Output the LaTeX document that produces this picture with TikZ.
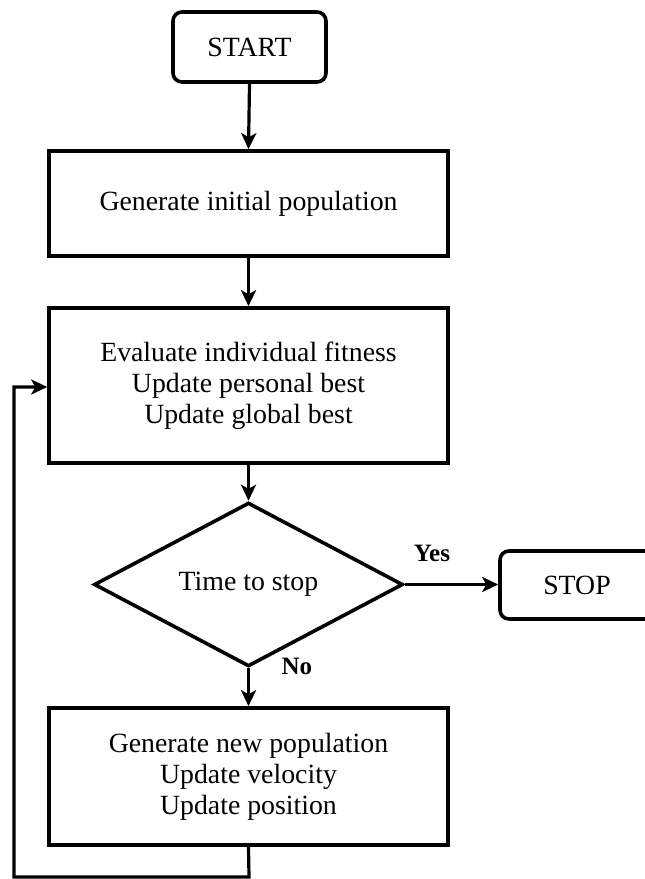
\documentclass[tikz,border=0pt]{standalone}
\usepackage{fontspec}
\setmainfont{Liberation Serif}
\usetikzlibrary{shapes.geometric,arrows.meta}

\begin{document}
\begin{tikzpicture}[x=1pt,y=-1pt,
  base/.style={draw=black, line width=3.6pt, fill=white, inner sep=0pt,
    align=center, font=\fontsize{27.8}{31}\selectfont},
  terminal/.style={base, rounded corners=9pt},
  process/.style={base, minimum width=399pt},
  decision/.style={base, diamond, minimum width=309pt, minimum height=139pt},
  flow/.style={line width=3.2pt, -{Stealth[length=16pt,width=15pt,inset=4pt]}},
  answer/.style={font=\fontsize{25}{28}\selectfont\bfseries}]

  \useasboundingbox (0,0) rectangle (645,879);
  \clip (0,0) rectangle (645,879);
  \fill[white] (0,0) rectangle (645,879);

  % Nodes of the flowchart
  \node[terminal, minimum width=153pt, minimum height=70pt] (start) at (249.5,47) {START};
  \node[process, minimum height=105pt] (init) at (248.5,203.5) {Generate initial population};
  \node[process, minimum height=155pt] (eval) at (248.5,385.5)
    {Evaluate individual fitness\\Update personal best\\Update global best};
  \node[decision] (check) at (248.5,584.5) {Time to stop};
  \node[terminal, minimum width=154pt, minimum height=68pt] (stop) at (577,585) {STOP};
  \node[process, minimum height=137pt] (update) at (248.5,776.5)
    {Generate new population\\Update velocity\\Update position};

  % Main flow
  \draw[flow] (start.south) -- (init.north);
  \draw[flow] (init.south) -- (eval.north);
  \draw[flow] (eval.south) -- (check.north);
  \draw[flow] (check.east) -- (check.east -| stop.west);
  \draw[flow] (check.south) -- (update.north);

  % Branch labels
  \node[answer] (yes) at (432,553) {Yes};
  \node[answer, anchor=west] (no) at (278,666) {No};

  % Feedback loop back to the evaluation step
  \coordinate (loopbottom) at (249,877);
  \coordinate (loopcorner) at (14,877);
  \coordinate (loopentry) at (14,387);
  \draw[flow, line join=miter] (update.south) -- (loopbottom) -- (loopcorner)
    -- (loopentry) -- (loopentry -| eval.west);
\end{tikzpicture}
\end{document}
